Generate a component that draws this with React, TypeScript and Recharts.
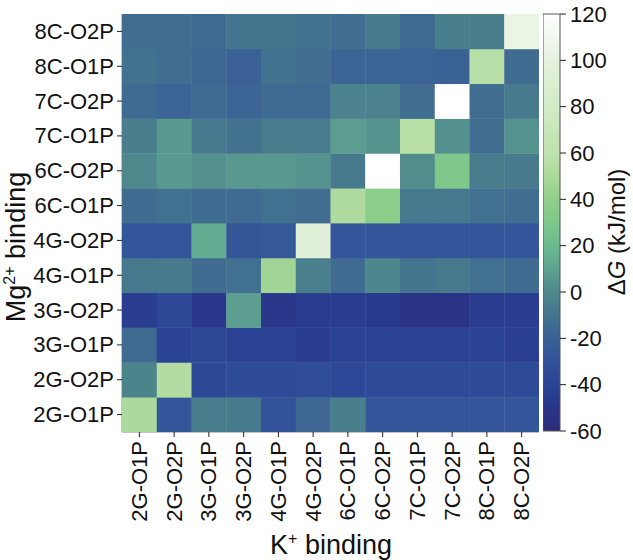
import { ScatterChart, Scatter, XAxis, YAxis, BarChart, Bar } from "recharts";

document.body.style.margin = "0";

// binding sites, bottom-to-top on y, left-to-right on x
const bindings = [
  "2G-O1P", "2G-O2P", "3G-O1P", "3G-O2P", "4G-O1P", "4G-O2P",
  "6C-O1P", "6C-O2P", "7C-O1P", "7C-O2P", "8C-O1P", "8C-O2P",
];

// ΔG (kJ/mol), one row per Mg2+ site (bottom row first), columns = K+ site
const dG = [
  [50, -28, -6, -7, -29, -16, -5, -28, -28, -28, -28, -28], // 2G-O1P
  [-2, 53, -36, -35, -35, -34, -37, -35, -35, -35, -35, -35], // 2G-O2P
  [-15, -40, -36, -41, -41, -44, -41, -40, -40, -40, -40, -43], // 3G-O1P
  [-44, -36, -48, 9, -48, -45, -45, -47, -52, -52, -44, -44], // 3G-O2P
  [-8, -7, -14, -12, 46, -4, -14, -1, -10, -8, -12, -14], // 4G-O1P
  [-28, -28, 14, -27, -26, 95, -28, -28, -28, -28, -28, -28], // 4G-O2P
  [-14, -12, -14, -15, -12, -13, 52, 38, -8, -8, -12, -13], // 6C-O1P
  [0, 7, 3, 6, 6, 5, -7, 120, 2, 30, -6, -7], // 6C-O2P
  [-5, 7, -8, -11, -6, -6, 8, 5, 55, 3, -13, 4], // 7C-O1P
  [-15, -18, -15, -18, -15, -15, -3, -3, -13, 120, -13, -7], // 7C-O2P
  [-11, -13, -16, -20, -11, -13, -18, -18, -18, -19, 57, -14], // 8C-O1P
  [-13, -13, -15, -10, -10, -11, -13, -7, -15, -5, -5, 105], // 8C-O2P
];

const cbTicks = [-60, -40, -20, 0, 20, 40, 60, 80, 100, 120];
const cbRange = [-60, 120];

const cmap: [number, string][] = [
  [-60, "#2d2b79"],
  [-50, "#293589"],
  [-40, "#2a4394"],
  [-30, "#31529a"],
  [-20, "#3a6096"],
  [-10, "#44748e"],
  [0, "#4e888c"],
  [10, "#5ea291"],
  [20, "#6cba90"],
  [30, "#7ec88c"],
  [40, "#90ce8a"],
  [50, "#acd99c"],
  [60, "#bfe2ae"],
  [80, "#d2ebc6"],
  [100, "#e4f2de"],
  [120, "#ffffff"],
];

const hex = (h: string) => [1, 3, 5].map((i) => parseInt(h.slice(i, i + 2), 16));

const colorOf = (v: number) => {
  if (v <= cmap[0][0]) return cmap[0][1];
  for (let i = 1; i < cmap.length; i++) {
    const [v1, c1] = cmap[i];
    const [v0, c0] = cmap[i - 1];
    if (v <= v1) {
      const t = (v - v0) / (v1 - v0);
      const a = hex(c0), b = hex(c1);
      const rgb = a.map((x, k) => Math.round(x + (b[k] - x) * t));
      return `rgb(${rgb.join(",")})`;
    }
  }
  return cmap[cmap.length - 1][1];
};

const cells = dG.flatMap((row, y) => row.map((v, x) => ({ x, y, v })));

const W = 633;
const H = 560;
const margin = { top: 14, right: 94, bottom: 0, left: 0 };
const yAxisW = 122;
const xAxisH = 128;
const cellW = (W - margin.left - margin.right - yAxisW) / bindings.length;
const cellH = (H - margin.top - margin.bottom - xAxisH) / bindings.length;
const idx = bindings.map((_, i) => i);
const dom: [number, number] = [-0.5, bindings.length - 0.5];

const font = "'Liberation Sans', Arial, Helvetica, sans-serif";
const ink = "#111";

const Cell = (props: any) => {
  const { cx, cy, payload } = props;
  return (
    <rect
      x={cx - cellW / 2}
      y={cy - cellH / 2}
      width={cellW + 0.4}
      height={cellH + 0.4}
      fill={colorOf(payload.v)}
    />
  );
};

const XTick = ({ x, y, payload }: any) => (
  <text
    transform={`translate(${x},${y}) rotate(-90)`}
    textAnchor="end"
    dominantBaseline="central"
    fontSize={22}
    fill={ink}
  >
    {bindings[payload.value]}
  </text>
);

const YTick = ({ x, y, payload }: any) => (
  <text x={x} y={y} textAnchor="end" dominantBaseline="central" fontSize={22} fill={ink}>
    {bindings[payload.value]}
  </text>
);

export default function App() {
  return (
    <div style={{ position: "relative", width: W, height: H, fontFamily: font }}>
      <ScatterChart width={W} height={H} margin={margin}>
        <XAxis
          type="number"
          dataKey="x"
          domain={dom}
          ticks={idx}
          interval={0}
          height={xAxisH}
          tick={<XTick />}
          tickSize={5}
          tickMargin={4}
          tickLine={{ stroke: "#222" }}
          axisLine={{ stroke: "#888" }}
          allowDataOverflow
        />
        <YAxis
          type="number"
          dataKey="y"
          domain={dom}
          ticks={idx}
          interval={0}
          width={yAxisW}
          tick={<YTick />}
          tickSize={5}
          tickMargin={3}
          tickLine={{ stroke: "#222" }}
          axisLine={{ stroke: "#888" }}
          allowDataOverflow
        />
        <XAxis
          xAxisId="top"
          orientation="top"
          type="number"
          domain={dom}
          height={0}
          tick={false}
          tickLine={false}
          axisLine={{ stroke: "#888" }}
        />
        <YAxis
          yAxisId="right"
          orientation="right"
          type="number"
          domain={dom}
          width={0}
          tick={false}
          tickLine={false}
          axisLine={{ stroke: "#888" }}
        />
        <Scatter data={cells} shape={<Cell />} isAnimationActive={false} />
        <text transform="translate(25,247) rotate(-90)" textAnchor="middle" fontSize={27} fill={ink}>
          Mg
          <tspan dy={-10} fontSize={16}>2+</tspan>
          <tspan dy={10}> binding</tspan>
        </text>
        <text x={331} y={554} textAnchor="middle" fontSize={27} fill={ink}>
          K
          <tspan dy={-10} fontSize={16}>+</tspan>
          <tspan dy={10}> binding</tspan>
        </text>
      </ScatterChart>

      <div style={{ position: "absolute", left: 543, top: 0 }}>
        <BarChart
          width={90}
          height={H}
          data={[{ name: "cb", range: cbRange }]}
          margin={{ top: 14, right: 0, bottom: 129, left: 0 }}
          barCategoryGap={0}
        >
          <defs>
            <linearGradient id="cbGrad" x1="0" y1="1" x2="0" y2="0">
              {cmap.map(([v, c]) => (
                <stop
                  key={v}
                  offset={`${((v - cbRange[0]) / (cbRange[1] - cbRange[0])) * 100}%`}
                  stopColor={c}
                />
              ))}
            </linearGradient>
          </defs>
          <XAxis dataKey="name" hide />
          <YAxis
            orientation="right"
            type="number"
            domain={cbRange}
            ticks={cbTicks}
            interval={0}
            width={73}
            tickSize={6}
            tickMargin={4}
            tick={{ fontSize: 22, fill: ink }}
            tickLine={{ stroke: "#222" }}
            axisLine={false}
          />
          <Bar
            dataKey="range"
            fill="url(#cbGrad)"
            stroke="#555"
            strokeWidth={1}
            isAnimationActive={false}
          />
          <text transform="translate(82,232) rotate(-90)" textAnchor="middle" fontSize={24} fill={ink}>
            Δ<tspan fontStyle="italic">G</tspan> (kJ/mol)
          </text>
        </BarChart>
      </div>
    </div>
  );
}
